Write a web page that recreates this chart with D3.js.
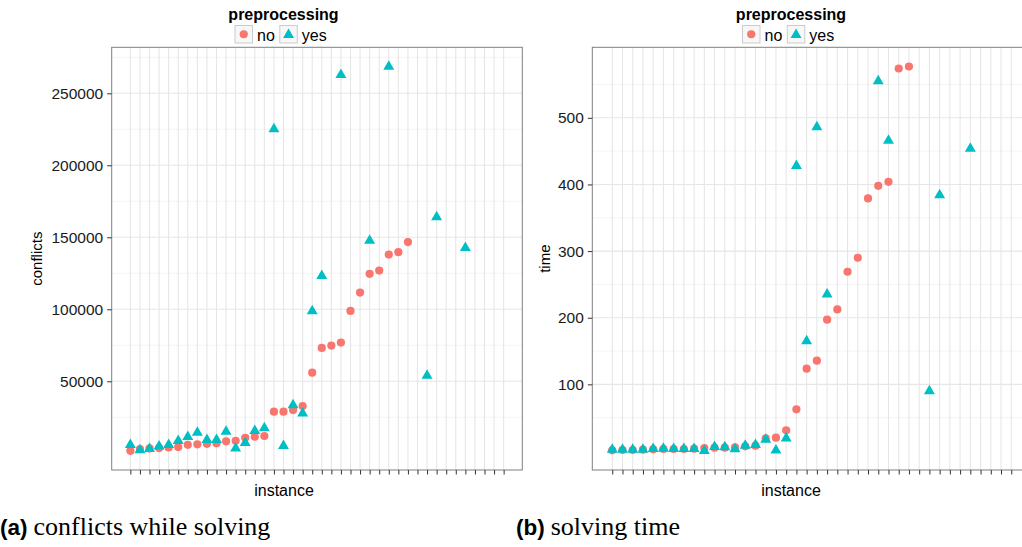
<!DOCTYPE html>
<html>
<head>
<meta charset="utf-8">
<script src="https://cdn.jsdelivr.net/npm/d3@7"></script>
<style>
  html, body { margin: 0; padding: 0; background: #ffffff; }
  svg { display: block; }
</style>
</head>
<body>
<svg id="chart" width="1022" height="547"></svg>
<script>
// ---------------- data ----------------
const instances = d3.range(1, 41);
const groups = ["no", "yes"];
const legendTitle = "preprocessing";

const conflictsNo = [1740, 2900, 3400, 3600, 4100, 4300, 5900, 6200, 6600, 6900,
  8300, 8700, 10800, 11500, 12000, 28900, 28900, 30000, 32800, 56000,
  73200, 74800, 76900, 98900, 111600, 124600, 126900, 138000, 139700, 146700,
  null, null, null, null, null, null, null, null, null, null];
const conflictsYes = [5900, 2200, 3100, 4800, 5900, 8700, 11500, 14300, 9400, 9400,
  15000, 3400, 7300, 15600, 17500, 225200, 5200, 33500, 27700, 98700,
  123200, null, 262800, null, null, 147800, null, 268600, null, null,
  null, 53900, 164000, null, null, 142700, null, null, null, null];

const timeNo = [1, 1.5, 1.5, 2, 2.5, 3, 3, 3, 3.5, 4.5,
  5, 5, 5.5, 7, 8, 19, 20, 31, 62.5, 123.5,
  135.5, 197, 212.5, 269, 290, 379, 398, 404, 574, 577,
  null, null, null, null, null, null, null, null, null, null];
const timeYes = [2, 2, 2, 2, 3.4, 3.5, 3.4, 3.4, 3.4, 0.3,
  6.4, 6, 3, 8, 9.4, 17, 1, 19, 428, 165,
  486, 235, null, null, null, null, 555, 466, null, null,
  null, 90, 384, null, null, 454, null, null, null, null];

const conflictsTicks = [50000, 100000, 150000, 200000, 250000];
const timeTicks = [100, 200, 300, 400, 500];

// ---------------- style ----------------
const colors = { no: "#F8766D", yes: "#00BFC4" };
const FONT = "'Liberation Sans', Arial, Helvetica, sans-serif";

const svg = d3.select("#chart");
svg.append("rect").attr("width", 1022).attr("height", 547).attr("fill", "#fff");

function drawPanel(cfg) {
  const g = svg.append("g");
  const { left, right, top, bottom } = cfg.box;

  const x = d3.scaleLinear()
    .domain([1 - 0.05 * 39, 40 + 0.05 * 39])
    .range([left, right]);

  const all = cfg.no.concat(cfg.yes).filter(v => v != null);
  const lo = d3.min(all), hi = d3.max(all), span = hi - lo;
  const y = d3.scaleLinear()
    .domain([lo - 0.05 * span, hi + 0.05 * span])
    .range([bottom, top]);

  const clipId = "clip" + cfg.id;
  g.append("clipPath").attr("id", clipId)
    .append("rect").attr("x", left).attr("y", top)
    .attr("width", right - left).attr("height", bottom - top);

  const pg = g.append("g").attr("clip-path", `url(#${clipId})`);

  // minor horizontal gridlines
  const step = cfg.ticks[1] - cfg.ticks[0];
  const ext = [cfg.ticks[0] - step].concat(cfg.ticks, [cfg.ticks[cfg.ticks.length - 1] + step]);
  const minors = d3.range(ext.length - 1).map(i => (ext[i] + ext[i + 1]) / 2);
  pg.selectAll(".minor").data(minors).join("line")
    .attr("x1", left).attr("x2", right)
    .attr("y1", d => y(d)).attr("y2", d => y(d))
    .attr("stroke", "#F3F3F3").attr("stroke-width", 0.9);

  // major horizontal gridlines
  pg.selectAll(".hmajor").data(cfg.ticks).join("line")
    .attr("x1", left).attr("x2", right)
    .attr("y1", d => y(d)).attr("y2", d => y(d))
    .attr("stroke", "#E6E6E6").attr("stroke-width", 1.1);

  // vertical gridlines
  pg.selectAll(".vmajor").data(instances).join("line")
    .attr("y1", top).attr("y2", bottom)
    .attr("x1", d => x(d)).attr("x2", d => x(d))
    .attr("stroke", "#E6E6E6").attr("stroke-width", 1.1);

  const noPts = instances.map((d, i) => ({ i: d, v: cfg.no[i] })).filter(d => d.v != null);
  const yesPts = instances.map((d, i) => ({ i: d, v: cfg.yes[i] })).filter(d => d.v != null);

  pg.selectAll(".pno").data(noPts).join("circle")
    .attr("cx", d => x(d.i)).attr("cy", d => y(d.v)).attr("r", 4.1)
    .attr("fill", colors.no);

  const tri = d3.symbol().type(d3.symbolTriangle).size(52);
  pg.selectAll(".pyes").data(yesPts).join("path")
    .attr("d", tri)
    .attr("transform", d => `translate(${x(d.i)},${y(d.v)})`)
    .attr("fill", colors.yes);

  // panel border
  g.append("rect").attr("x", left).attr("y", top)
    .attr("width", right - left).attr("height", bottom - top)
    .attr("fill", "none").attr("stroke", "#7F7F7F").attr("stroke-width", 1);

  // y axis
  const yAxis = d3.axisLeft(y).tickValues(cfg.ticks).tickSize(4.5).tickPadding(4)
    .tickFormat(d3.format("d"));
  const ya = g.append("g").attr("transform", `translate(${left},0)`).call(yAxis);
  ya.select(".domain").remove();
  ya.selectAll(".tick line").attr("stroke", "#333").attr("stroke-width", 1);
  ya.selectAll(".tick text").attr("fill", "#1A1A1A")
    .style("font-family", FONT).style("font-size", "15.5px");

  // x axis (ticks only, no labels)
  const xAxis = d3.axisBottom(x).tickValues(instances).tickSize(4.5).tickFormat("");
  const xa = g.append("g").attr("transform", `translate(0,${bottom})`).call(xAxis);
  xa.select(".domain").remove();
  xa.selectAll(".tick line").attr("stroke", "#333").attr("stroke-width", 1);

  // axis titles
  g.append("text").attr("x", cfg.xTitleX).attr("y", 496)
    .attr("text-anchor", "middle").attr("fill", "#000")
    .style("font-family", FONT).style("font-size", "16px")
    .text("instance");
  g.append("text")
    .attr("transform", `translate(${cfg.yTitleX},${(top + bottom) / 2}) rotate(-90)`)
    .attr("text-anchor", "middle").attr("fill", "#000")
    .style("font-family", FONT).style("font-size", "15px")
    .text(cfg.yTitle);

  // legend
  const cx = cfg.legendX;
  g.append("text").attr("x", cx).attr("y", 20)
    .attr("text-anchor", "middle").attr("fill", "#000")
    .style("font-family", FONT).style("font-size", "16px").style("font-weight", "bold")
    .text(legendTitle);
  const keyW = 17.5;
  const kx = [cx - 48.5, cx - 3.7];
  groups.forEach((grp, k) => {
    g.append("rect").attr("x", kx[k]).attr("y", 25.5)
      .attr("width", keyW).attr("height", keyW)
      .attr("fill", "#F7F7F7").attr("stroke", "#CCCCCC").attr("stroke-width", 1);
    if (grp === "no") {
      g.append("circle").attr("cx", kx[k] + keyW / 2).attr("cy", 25.5 + keyW / 2)
        .attr("r", 4.1).attr("fill", colors.no);
    } else {
      g.append("path").attr("d", tri)
        .attr("transform", `translate(${kx[k] + keyW / 2},${25.5 + keyW / 2 + 0.5})`)
        .attr("fill", colors.yes);
    }
    g.append("text").attr("x", kx[k] + keyW + 4.5).attr("y", 40.5)
      .attr("fill", "#000")
      .style("font-family", FONT).style("font-size", "16px")
      .text(grp);
  });
}

drawPanel({
  id: "a",
  box: { left: 111.7, right: 522.3, top: 47.3, bottom: 470 },
  no: conflictsNo, yes: conflictsYes, ticks: conflictsTicks,
  yTitle: "conflicts", yTitleX: 41.5, xTitleX: 284, legendX: 283.5
});
drawPanel({
  id: "b",
  box: { left: 592.3, right: 1031.2, top: 47.3, bottom: 470 },
  no: timeNo, yes: timeYes, ticks: timeTicks,
  yTitle: "time", yTitleX: 549.5, xTitleX: 791, legendX: 791
});

// captions
const captions = [
  { x: 0, label: "(a)", text: "conflicts while solving" },
  { x: 516, label: "(b)", text: "solving time" }
];
captions.forEach(c => {
  const t = svg.append("text").attr("x", c.x).attr("y", 535).attr("fill", "#000");
  t.append("tspan").style("font-family", FONT).style("font-weight", "bold")
    .style("font-size", "22.5px").text(c.label);
  t.append("tspan").attr("dx", 6).style("font-family", "'Liberation Serif', 'Times New Roman', serif")
    .style("font-size", "26px").text(c.text);
});
</script>
</body>
</html>
